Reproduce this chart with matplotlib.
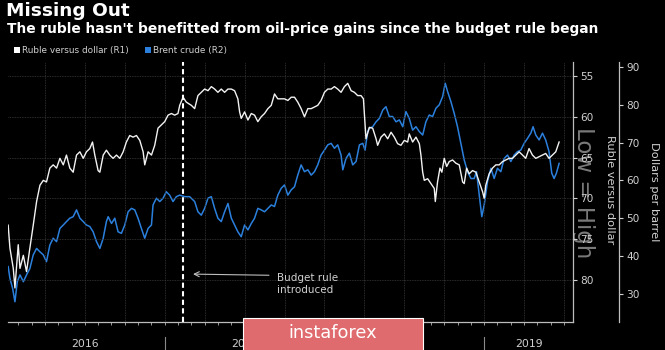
import matplotlib
matplotlib.use("Agg")
import matplotlib.pyplot as plt
from matplotlib.patches import Rectangle
from matplotlib.ticker import FixedLocator, NullFormatter

# ---------------- data ----------------
ruble_t = [
    2016.02, 2016.031, 2016.052, 2016.0625, 2016.083, 2016.094, 2016.115, 2016.135, 2016.156, 2016.177,
    2016.198, 2016.219, 2016.240, 2016.260, 2016.281, 2016.302, 2016.323, 2016.344, 2016.365, 2016.385,
    2016.406, 2016.427, 2016.448, 2016.469, 2016.490, 2016.510, 2016.531, 2016.548, 2016.5625, 2016.583,
    2016.594, 2016.615, 2016.635, 2016.656, 2016.677, 2016.698, 2016.719, 2016.740, 2016.760, 2016.781,
    2016.802, 2016.823, 2016.844, 2016.865, 2016.875, 2016.896, 2016.917, 2016.9375, 2016.958, 2016.979,
    2017.000, 2017.021, 2017.042, 2017.0625, 2017.083,
    2017.094, 2017.115, 2017.135, 2017.167, 2017.1875, 2017.208, 2017.229, 2017.25, 2017.271, 2017.292,
    2017.3125, 2017.333, 2017.354, 2017.375, 2017.396, 2017.417, 2017.4375, 2017.458, 2017.469, 2017.479,
    2017.5, 2017.521, 2017.542, 2017.5625, 2017.583, 2017.604, 2017.625, 2017.646, 2017.667, 2017.6875,
    2017.708, 2017.729, 2017.75, 2017.771, 2017.792, 2017.8125, 2017.833, 2017.854, 2017.875, 2017.896,
    2017.917, 2017.9375, 2017.958, 2017.979, 2018.0, 2018.021, 2018.042, 2018.0625, 2018.083, 2018.104,
    2018.125, 2018.146, 2018.167, 2018.1875, 2018.208, 2018.229, 2018.244, 2018.260,
    2018.281, 2018.302, 2018.323, 2018.333, 2018.354, 2018.375, 2018.396, 2018.417, 2018.4375, 2018.458,
    2018.479, 2018.5, 2018.521, 2018.531, 2018.552, 2018.573, 2018.594, 2018.604, 2018.615, 2018.625,
    2018.646, 2018.667, 2018.6875, 2018.694, 2018.708, 2018.723, 2018.735, 2018.75, 2018.765, 2018.781,
    2018.802, 2018.823, 2018.844, 2018.865, 2018.875, 2018.890, 2018.906, 2018.927, 2018.948, 2018.969,
    2018.990, 2019.0, 2019.010, 2019.031, 2019.052, 2019.073, 2019.094, 2019.115, 2019.135, 2019.156,
    2019.177, 2019.198, 2019.219, 2019.240, 2019.260, 2019.281, 2019.302, 2019.323, 2019.344, 2019.365,
    2019.385, 2019.406, 2019.427, 2019.448, 2019.469,
]
ruble = [
    73.3, 76.1, 78.6, 81.0, 75.7, 78.6, 77.0, 79.0, 76.1, 73.3,
    70.4, 68.4, 67.8, 68.0, 66.3, 65.9, 66.3, 65.1, 65.9, 64.7,
    66.3, 66.8, 64.7, 64.3, 65.1, 64.3, 63.9, 63.1, 64.7, 66.6,
    66.8, 64.7, 64.1, 64.7, 65.1, 64.7, 65.1, 64.3, 63.1, 62.3,
    62.5, 62.3, 62.9, 64.3, 65.9, 64.3, 64.7, 63.5, 61.4, 61.0,
    60.6, 59.8, 59.6, 59.8, 59.6,
    58.6, 57.6, 58.2, 58.6, 59.0, 57.4, 57.0, 56.6, 56.8, 56.3,
    56.6, 57.0, 56.6, 57.0, 56.6, 56.6, 56.8, 57.8, 59.4, 60.2,
    59.4, 60.4, 59.6, 59.8, 60.6, 60.0, 59.6, 59.0, 58.6, 57.2,
    57.8, 57.8, 57.8, 58.0, 57.6, 57.6, 58.2, 59.0, 60.0, 59.0,
    59.0, 58.8, 58.6, 58.0, 57.0, 56.6, 56.6, 56.3, 56.6, 57.0,
    56.3, 55.9, 56.8, 57.0, 57.4, 57.4, 57.8, 62.7,
    61.3, 61.4, 62.7, 63.5, 62.5, 62.1, 62.7, 61.9, 62.5, 63.3,
    63.5, 62.9, 63.1, 62.1, 63.1, 62.5, 63.3, 64.7, 66.8, 67.8,
    67.6, 68.2, 68.8, 70.4, 68.0, 66.3, 66.8, 65.1, 66.1, 65.5,
    65.3, 65.7, 65.9, 68.0, 68.2, 66.3, 67.0, 66.6, 66.8, 68.0,
    69.2, 70.0, 68.4, 67.0, 66.3, 65.9, 65.9, 65.5, 65.3, 65.1,
    65.1, 64.7, 64.3, 64.7, 65.1, 63.9, 64.7, 65.1, 64.9, 64.7,
    64.5, 65.1, 64.7, 64.3, 63.1,
]

brent_t = [
    2016.02, 2016.031, 2016.048, 2016.0625, 2016.077, 2016.094, 2016.115, 2016.135, 2016.156, 2016.177,
    2016.198, 2016.219, 2016.240, 2016.260, 2016.281, 2016.302, 2016.323, 2016.344, 2016.365, 2016.385,
    2016.406, 2016.427, 2016.448, 2016.469, 2016.490, 2016.510, 2016.531, 2016.552, 2016.573, 2016.594,
    2016.615, 2016.635, 2016.646, 2016.667, 2016.6875, 2016.708, 2016.729, 2016.75, 2016.771, 2016.792,
    2016.8125, 2016.833, 2016.854, 2016.875, 2016.896, 2016.917, 2016.927, 2016.948, 2016.969, 2016.990,
    2017.010, 2017.031, 2017.052, 2017.073,
    2017.094, 2017.125, 2017.156, 2017.1875, 2017.208, 2017.229, 2017.25, 2017.271, 2017.292, 2017.3125,
    2017.333, 2017.354, 2017.375, 2017.396, 2017.417, 2017.4375, 2017.458, 2017.479, 2017.5, 2017.521,
    2017.542, 2017.5625, 2017.583, 2017.604, 2017.625, 2017.646, 2017.667, 2017.6875, 2017.708, 2017.729,
    2017.75, 2017.771, 2017.792, 2017.8125, 2017.833, 2017.854, 2017.875, 2017.896, 2017.917, 2017.9375,
    2017.958, 2017.979, 2018.0, 2018.021, 2018.042, 2018.0625, 2018.083, 2018.104, 2018.115, 2018.135,
    2018.156, 2018.177, 2018.198, 2018.219, 2018.240, 2018.254, 2018.271,
    2018.281, 2018.302, 2018.323, 2018.344, 2018.365, 2018.385, 2018.406, 2018.427, 2018.448, 2018.469,
    2018.490, 2018.510, 2018.531, 2018.552, 2018.573, 2018.594, 2018.615, 2018.635, 2018.656, 2018.677,
    2018.698, 2018.719, 2018.740, 2018.756, 2018.771, 2018.792, 2018.8125, 2018.833, 2018.854, 2018.875,
    2018.896, 2018.917, 2018.9375, 2018.952, 2018.969, 2018.985, 2019.0, 2019.021, 2019.042, 2019.0625,
    2019.083, 2019.104, 2019.125, 2019.146, 2019.167, 2019.1875, 2019.208, 2019.229, 2019.25, 2019.271,
    2019.292, 2019.306, 2019.323, 2019.344, 2019.365, 2019.385, 2019.406, 2019.423, 2019.4375, 2019.452,
    2019.469,
]
brent = [
    37.2, 34.1, 31.4, 27.9, 33.2, 35.0, 33.2, 35.0, 36.7, 40.3,
    42.0, 41.1, 40.3, 38.5, 42.9, 44.7, 43.8, 47.3, 48.2, 49.1,
    50.0, 50.4, 52.2, 50.0, 49.1, 48.2, 47.8, 46.4, 43.8, 42.0,
    44.7, 49.1, 50.4, 48.6, 50.0, 46.4, 46.0, 48.2, 51.7, 52.6,
    52.2, 50.0, 47.3, 44.7, 47.3, 48.2, 53.5, 55.3, 54.4, 55.3,
    57.0, 56.1, 54.4, 55.7,
    56.1, 55.7, 55.7, 54.4, 51.7, 50.8, 52.6, 55.3, 55.7, 52.6,
    50.0, 49.1, 51.7, 53.9, 50.0, 48.2, 46.4, 45.1, 48.2, 46.9,
    48.6, 50.0, 52.6, 52.2, 51.7, 52.6, 53.5, 53.1, 56.1, 57.9,
    58.8, 56.1, 57.5, 58.3, 61.4, 64.1, 62.3, 62.8, 61.4, 62.3,
    64.1, 66.7, 68.0, 69.4, 69.8, 68.5, 69.4, 66.7, 62.8, 65.8,
    67.2, 64.1, 65.0, 69.4, 69.8, 68.0, 72.9,
    73.8, 74.2, 75.5, 76.4, 78.6, 79.5, 76.9, 76.9, 75.5, 76.0,
    74.2, 78.2, 76.4, 73.3, 74.2, 72.9, 72.0, 75.5, 77.3, 76.9,
    79.1, 80.0, 82.2, 85.7, 83.5, 80.8, 77.7, 74.2, 69.8, 65.4,
    62.3, 60.5, 60.5, 62.3, 56.1, 50.4, 53.5, 59.7, 63.2, 60.5,
    63.2, 62.3, 65.8, 66.7, 65.0, 66.7, 67.6, 68.0, 69.8, 71.1,
    72.5, 74.2, 72.0, 70.7, 72.5, 70.7, 67.6, 61.9, 60.5, 61.9,
    64.5,
]

ruble_ticks = [55, 60, 65, 70, 75, 80]
brent_ticks = [30, 40, 50, 60, 70, 80, 90]
years = [2016, 2017, 2018, 2019]
rule_date = 2017.1125

# ---------------- figure ----------------
BG = "black"
TXT = "#d0d0d0"
WHITE_LINE = "#f2f2f2"
BLUE_LINE = "#2b80dd"

fig = plt.figure(figsize=(6.65, 3.5), dpi=100, facecolor=BG)
ax = fig.add_axes([8 / 665, 28 / 350, 565 / 665, 260 / 350])
ax2 = ax.twinx()
ax.set_zorder(ax2.get_zorder() + 1)
ax.patch.set_visible(False)
ax2.patch.set_visible(False)

ax2.plot(brent_t, brent, color=BLUE_LINE, lw=1.1)
ax.plot(ruble_t, ruble, color=WHITE_LINE, lw=1.0)

x0, x1 = 2016.019, 2019.556
ax.set_xlim(x0, x1)
ax.set_ylim(85.18, 53.28)
ax2.set_ylim(22.54, 91.32)

# spines
for s in ["left", "top"]:
    ax.spines[s].set_visible(False)
for s in ["left", "top", "bottom"]:
    ax2.spines[s].set_visible(False)
for sp in (ax.spines["right"], ax.spines["bottom"], ax2.spines["right"]):
    sp.set_color("#bdbdbd")
    sp.set_linewidth(0.9)
ax2.spines["right"].set_position(("outward", 46 * 0.72))

# y ticks
ax.yaxis.tick_right()
ax.set_yticks(ruble_ticks)
ax.tick_params(axis="y", colors=TXT, labelsize=7.6, length=3, width=0.8, pad=2)
ax2.set_yticks(brent_ticks)
ax2.tick_params(axis="y", colors=TXT, labelsize=7.6, length=3, width=0.8, pad=2)

# x ticks: quarters (grid) + monthly minor ticks
quarters = [2016 + q / 4 for q in range(1, 15)]
months = [2016 + m / 12 for m in range(1, 43)]
ax.xaxis.set_major_locator(FixedLocator(quarters))
ax.xaxis.set_minor_locator(FixedLocator(months))
ax.xaxis.set_major_formatter(NullFormatter())
ax.tick_params(axis="x", which="both", colors="#9a9a9a", length=2.5, width=0.7, direction="out")

ax.grid(True, which="major", color="#3a3a3a", lw=0.6, linestyle=(0, (1, 1)))
ax.set_axisbelow(True)

# year separators and labels
xt = ax.get_xaxis_transform()
for yr in years[1:]:
    ax.plot([yr, yr], [-0.058, -0.11], transform=xt, color="#8a8a8a", lw=0.8, clip_on=False)
label_pos = [2016.5, 2017.5, 2018.5, (2019 + x1) / 2]
for yr, xp in zip(years, label_pos):
    ax.text(xp, -0.085, str(yr), transform=xt, ha="center", va="center", color=TXT, fontsize=7.8)

# budget rule marker
ax.axvline(rule_date, color="white", lw=1.5, linestyle=(0, (2.5, 1.6)), zorder=5)
ax.annotate("", xy=(2017.16, 79.3), xytext=(2017.67, 79.45),
            arrowprops=dict(arrowstyle="->", color="#bdbdbd", lw=0.8, mutation_scale=9))
ax.text(2017.70, 80.55, "Budget rule\nintroduced", color=TXT, fontsize=7.5,
        ha="left", va="center", linespacing=1.25)

# axis titles
fig.text(583 / 665, 1 - 193 / 350, "Low = High", rotation=270, ha="center", va="center",
         color="#7a7a7a", fontsize=16.5, zorder=-1)
fig.text(610 / 665, 1 - 190 / 350, "Ruble versus dollar", rotation=270, ha="center", va="center",
         color=TXT, fontsize=8.2)
fig.text(654 / 665, 1 - 192 / 350, "Dollars per barrel", rotation=270, ha="center", va="center",
         color=TXT, fontsize=8.2)

# titles
fig.text(6 / 665, 1 - 11.5 / 350, "Missing Out", color="white", fontsize=13.3, weight="bold",
         ha="left", va="center")
fig.text(7 / 665, 1 - 29 / 350,
         "The ruble hasn't benefitted from oil-price gains since the budget rule began",
         color="white", fontsize=9.9, weight="bold", ha="left", va="center")

# legend
fig.add_artist(Rectangle((14 / 665, 1 - 53 / 350), 6 / 665, 6 / 350, transform=fig.transFigure,
                         facecolor="white", edgecolor="none"))
fig.text(22 / 665, 1 - 50 / 350, "Ruble versus dollar (R1)", color=TXT, fontsize=6.4,
         ha="left", va="center")
fig.add_artist(Rectangle((145 / 665, 1 - 53 / 350), 6 / 665, 6 / 350, transform=fig.transFigure,
                         facecolor=BLUE_LINE, edgecolor="none"))
fig.text(153 / 665, 1 - 50 / 350, "Brent crude (R2)", color=TXT, fontsize=6.4,
         ha="left", va="center")

# watermark box
fig.add_artist(Rectangle((243 / 665, -0.01), 180 / 665, 32 / 350 + 0.01, transform=fig.transFigure,
                         facecolor="#e06b6e", edgecolor="white", lw=0.8, zorder=10))
fig.text(333 / 665, 17 / 350, "instaforex", color="white", fontsize=12.8, ha="center", va="center",
         zorder=11)

fig.savefig("out.png", dpi=100, facecolor=BG)
